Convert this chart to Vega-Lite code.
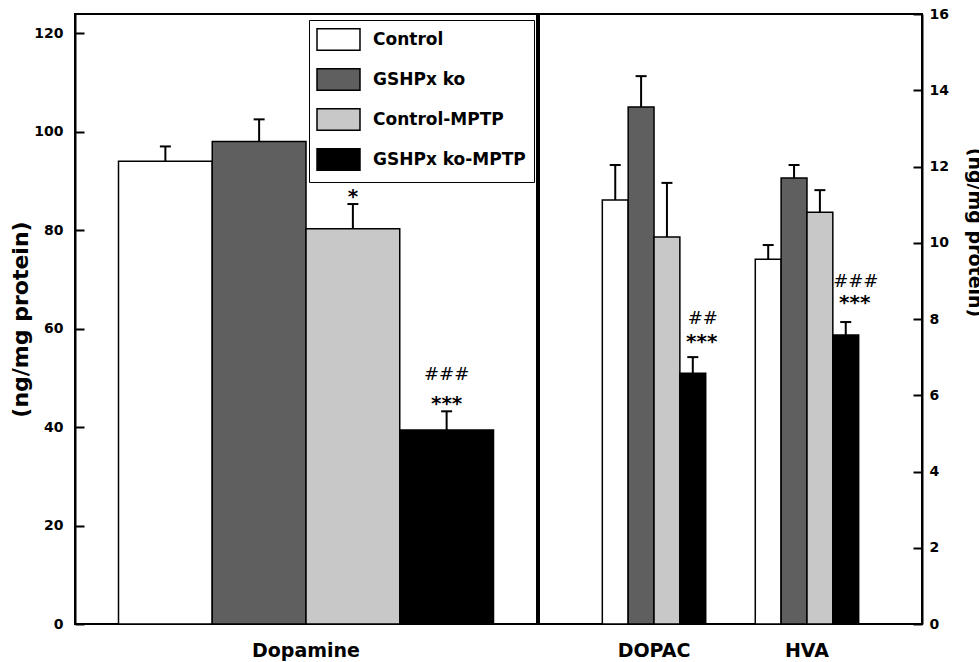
{
  "$schema": "https://vega.github.io/schema/vega-lite/v6.json",
  "padding": {"left": 8, "top": 6, "right": 0, "bottom": 0},
  "background": "white",
  "config": {
    "view": {"stroke": "black", "strokeWidth": 2},
    "concat": {"spacing": 0}
  },
  "datasets": {
    "left": [
      {"analyte": "Dopamine", "group": "Control", "value": 94.0, "err": 97.0, "star": null, "star_y": null, "hash": null, "hash_y": null},
      {"analyte": "Dopamine", "group": "GSHPx ko", "value": 98.0, "err": 102.5, "star": null, "star_y": null, "hash": null, "hash_y": null},
      {"analyte": "Dopamine", "group": "Control-MPTP", "value": 80.3, "err": 85.3, "star": "*", "star_y": 86.8, "hash": null, "hash_y": null},
      {"analyte": "Dopamine", "group": "GSHPx ko-MPTP", "value": 39.4, "err": 43.2, "star": "***", "star_y": 44.6, "hash": "###", "hash_y": 50.6}
    ],
    "right": [
      {"analyte": "DOPAC", "group": "Control", "value": 11.12, "err": 12.04, "star": null, "star_y": null, "hash": null, "hash_y": null},
      {"analyte": "DOPAC", "group": "GSHPx ko", "value": 13.56, "err": 14.37, "star": null, "star_y": null, "hash": null, "hash_y": null},
      {"analyte": "DOPAC", "group": "Control-MPTP", "value": 10.15, "err": 11.57, "star": null, "star_y": null, "hash": null, "hash_y": null},
      {"analyte": "DOPAC", "group": "GSHPx ko-MPTP", "value": 6.58, "err": 7.0, "star": "***", "star_y": 7.4, "hash": "##", "hash_y": 7.99},
      {"analyte": "HVA", "group": "Control", "value": 9.57, "err": 9.94, "star": null, "star_y": null, "hash": null, "hash_y": null},
      {"analyte": "HVA", "group": "GSHPx ko", "value": 11.7, "err": 12.04, "star": null, "star_y": null, "hash": null, "hash_y": null},
      {"analyte": "HVA", "group": "Control-MPTP", "value": 10.8, "err": 11.38, "star": null, "star_y": null, "hash": null, "hash_y": null},
      {"analyte": "HVA", "group": "GSHPx ko-MPTP", "value": 7.58, "err": 7.92, "star": "***", "star_y": 8.42, "hash": "###", "hash_y": 8.98}
    ]
  },
  "resolve": {"scale": {"color": "independent", "xOffset": "independent"}, "legend": {"color": "independent"}},
  "hconcat": [
    {
      "width": 462,
      "height": 610,
      "data": {"name": "left"},
      "encoding": {
        "x": {
          "field": "analyte", "type": "nominal",
          "scale": {"paddingInner": 0, "paddingOuter": 0.116},
          "axis": {"title": null, "ticks": false, "domain": false, "labelAngle": 0, "labelFont": "DejaVu Sans", "labelFontSize": 19, "labelFontWeight": "bold", "labelColor": "black", "labelPadding": 17}
        },
        "xOffset": {
          "field": "group", "type": "nominal",
          "sort": ["Control", "GSHPx ko", "Control-MPTP", "GSHPx ko-MPTP"],
          "scale": {"paddingInner": 0, "paddingOuter": 0}
        }
      },
      "layer": [
        {
          "mark": {"type": "bar", "stroke": "black", "strokeWidth": 1.5, "opacity": 1},
          "encoding": {
            "y": {
              "field": "value", "type": "quantitative",
              "scale": {"domain": [0, 123.9], "nice": false, "zero": true},
              "axis": {"values": [0, 20, 40, 60, 80, 100, 120], "grid": false, "tickSize": -9, "tickWidth": 2, "tickColor": "black", "domainColor": "black", "domainWidth": 2, "labelFont": "DejaVu Sans", "labelFontWeight": "bold", "labelFontSize": 14, "labelColor": "black", "labelPadding": 21, "title": "(ng/mg protein)", "titleFont": "DejaVu Sans", "titleFontSize": 22, "titleFontWeight": "bold", "titleColor": "black", "titleX": -43, "titleY": 305}
            },
            "color": {
              "field": "group", "type": "nominal",
              "scale": {"domain": ["Control", "GSHPx ko", "Control-MPTP", "GSHPx ko-MPTP"], "range": ["#ffffff", "#5f5f5f", "#c8c8c8", "#000000"]},
              "legend": {"orient": "none", "legendX": 234, "legendY": 6, "title": null, "symbolType": "M-2,-1H2V1H-2Z", "symbolSize": 462, "symbolOffset": 10, "symbolStrokeColor": "black", "symbolStrokeWidth": 1.5, "symbolOpacity": 1, "labelFont": "DejaVu Sans", "labelFontSize": 17, "labelFontWeight": "bold", "labelColor": "black", "labelOffset": 23, "rowPadding": 11, "padding": 8, "strokeColor": "black", "fillColor": "white"}
            }
          }
        },
        {
          "mark": {"type": "rule", "color": "black", "strokeWidth": 2},
          "encoding": {"y": {"field": "value", "type": "quantitative"}, "y2": {"field": "err"}}
        },
        {
          "mark": {"type": "tick", "color": "black", "size": 11, "thickness": 2, "opacity": 1},
          "encoding": {"y": {"field": "err", "type": "quantitative"}}
        },
        {
          "transform": [{"filter": "datum.star != null"}],
          "mark": {"type": "text", "font": "DejaVu Sans", "fontSize": 20, "fontWeight": "bold", "color": "black", "baseline": "middle"},
          "encoding": {"y": {"field": "star_y", "type": "quantitative"}, "text": {"field": "star"}}
        },
        {
          "transform": [{"filter": "datum.hash != null"}],
          "mark": {"type": "text", "font": "DejaVu Sans", "fontSize": 18, "color": "black", "baseline": "middle"},
          "encoding": {"y": {"field": "hash_y", "type": "quantitative"}, "text": {"field": "hash"}}
        }
      ]
    },
    {
      "width": 383,
      "height": 610,
      "data": {"name": "right"},
      "encoding": {
        "x": {
          "field": "analyte", "type": "nominal",
          "scale": {"paddingInner": 0.324, "paddingOuter": 0.414},
          "axis": {"title": null, "ticks": false, "domain": false, "labelAngle": 0, "labelFont": "DejaVu Sans", "labelFontSize": 19, "labelFontWeight": "bold", "labelColor": "black", "labelPadding": 17}
        },
        "xOffset": {
          "field": "group", "type": "nominal",
          "sort": ["Control", "GSHPx ko", "Control-MPTP", "GSHPx ko-MPTP"],
          "scale": {"paddingInner": 0, "paddingOuter": 0}
        }
      },
      "layer": [
        {
          "mark": {"type": "bar", "stroke": "black", "strokeWidth": 1.5, "opacity": 1},
          "encoding": {
            "y": {
              "field": "value", "type": "quantitative",
              "scale": {"domain": [0, 16], "nice": false, "zero": true},
              "axis": {"orient": "right", "values": [0, 2, 4, 6, 8, 10, 12, 14, 16], "grid": false, "tickSize": -9, "tickWidth": 2, "tickColor": "black", "domainColor": "black", "domainWidth": 2, "labelFont": "DejaVu Sans", "labelFontWeight": "bold", "labelFontSize": 14, "labelColor": "black", "labelPadding": 16, "title": "(ng/mg protein)", "titleFont": "DejaVu Sans", "titleFontSize": 19, "titleFontWeight": "bold", "titleColor": "black", "titleAngle": 90, "titleX": 42, "titleY": 218}
            },
            "color": {
              "field": "group", "type": "nominal",
              "scale": {"domain": ["Control", "GSHPx ko", "Control-MPTP", "GSHPx ko-MPTP"], "range": ["#ffffff", "#5f5f5f", "#c8c8c8", "#000000"]},
              "legend": null
            }
          }
        },
        {
          "mark": {"type": "rule", "color": "black", "strokeWidth": 2},
          "encoding": {"y": {"field": "value", "type": "quantitative"}, "y2": {"field": "err"}}
        },
        {
          "mark": {"type": "tick", "color": "black", "size": 11, "thickness": 2, "opacity": 1},
          "encoding": {"y": {"field": "err", "type": "quantitative"}}
        },
        {
          "transform": [{"filter": "datum.star != null"}],
          "mark": {"type": "text", "font": "DejaVu Sans", "fontSize": 20, "fontWeight": "bold", "color": "black", "baseline": "middle", "dx": 9},
          "encoding": {"y": {"field": "star_y", "type": "quantitative"}, "text": {"field": "star"}}
        },
        {
          "transform": [{"filter": "datum.hash != null"}],
          "mark": {"type": "text", "font": "DejaVu Sans", "fontSize": 18, "color": "black", "baseline": "middle", "dx": 10},
          "encoding": {"y": {"field": "hash_y", "type": "quantitative"}, "text": {"field": "hash"}}
        }
      ]
    }
  ]
}
